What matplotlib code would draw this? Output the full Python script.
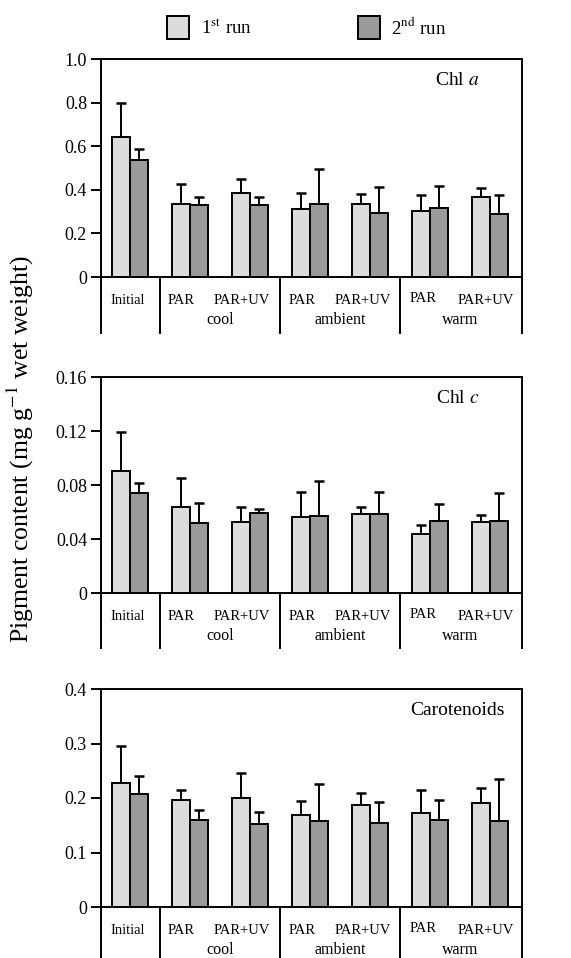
import matplotlib
matplotlib.use("Agg")
import matplotlib.pyplot as plt
import matplotlib.transforms as mtransforms
from matplotlib.patches import Rectangle
import numpy as np

plt.rcParams['font.family'] = ['Liberation Serif', 'DejaVu Serif']
plt.rcParams['mathtext.fontset'] = 'stix'

treatments = ['Initial', 'PAR', 'PAR+UV', 'PAR', 'PAR+UV', 'PAR', 'PAR+UV']
groups = ['cool', 'ambient', 'warm']

chla_run1 = [0.640, 0.336, 0.384, 0.313, 0.336, 0.303, 0.365]
chla_run1_top = [0.797, 0.425, 0.450, 0.384, 0.381, 0.374, 0.407]
chla_run2 = [0.538, 0.330, 0.330, 0.333, 0.292, 0.318, 0.288]
chla_run2_top = [0.585, 0.365, 0.365, 0.497, 0.413, 0.419, 0.378]

chlc_run1 = [0.0906, 0.064, 0.0528, 0.0563, 0.0588, 0.044, 0.0528]
chlc_run1_top = [0.119, 0.085, 0.064, 0.0748, 0.064, 0.0506, 0.0578]
chlc_run2 = [0.0741, 0.0519, 0.0593, 0.0573, 0.0585, 0.0531, 0.0536]
chlc_run2_top = [0.0812, 0.0667, 0.0625, 0.0827, 0.0748, 0.0657, 0.0743]

car_run1 = [0.228, 0.197, 0.200, 0.168, 0.187, 0.172, 0.190]
car_run1_top = [0.296, 0.214, 0.246, 0.195, 0.209, 0.215, 0.219]
car_run2 = [0.208, 0.160, 0.152, 0.158, 0.155, 0.160, 0.157]
car_run2_top = [0.241, 0.178, 0.175, 0.226, 0.193, 0.196, 0.235]

panels = [
    ('Chl $a$', chla_run1, chla_run1_top, chla_run2, chla_run2_top,
     [0, 0.2, 0.4, 0.6, 0.8, 1.0], ['0', '0.2', '0.4', '0.6', '0.8', '1.0']),
    ('Chl $c$', chlc_run1, chlc_run1_top, chlc_run2, chlc_run2_top,
     [0, 0.04, 0.08, 0.12, 0.16], ['0', '0.04', '0.08', '0.12', '0.16']),
    ('Carotenoids', car_run1, car_run1_top, car_run2, car_run2_top,
     [0, 0.1, 0.2, 0.3, 0.4], ['0', '0.1', '0.2', '0.3', '0.4']),
]

W, H = 571, 958
fig = plt.figure(figsize=(W / 100, H / 100), dpi=100)

# panel boxes in pixels: (top, bottom, table depth)
boxes = [(59, 277, 56), (377, 593, 55), (689, 907, 51)]
left_px, right_px = 101, 522

light = '#dcdcdc'
dark = '#9a9a9a'
x = np.arange(len(treatments))
bw = 0.3
label_shift = [-0.03, -0.15, -0.14, -0.13, -0.12, -0.12, -0.08]

for (name, r1, r1t, r2, r2t, ticks, ticklabels), (top, bot, depth) in zip(panels, boxes):
    ax = fig.add_axes([left_px / W, 1 - bot / H, (right_px - left_px) / W, (bot - top) / H])
    hpx = bot - top
    r1 = np.array(r1); r2 = np.array(r2)
    ax.bar(x - bw / 2, r1, bw, color=light, edgecolor='black', linewidth=1.4, zorder=3)
    ax.bar(x + bw / 2, r2, bw, color=dark, edgecolor='black', linewidth=1.4, zorder=3)
    ax.errorbar(x - bw / 2, r1, yerr=[np.zeros(7), np.array(r1t) - r1], fmt='none',
                ecolor='black', elinewidth=1.4, capsize=3.3, capthick=1.8, zorder=2)
    ax.errorbar(x + bw / 2, r2, yerr=[np.zeros(7), np.array(r2t) - r2], fmt='none',
                ecolor='black', elinewidth=1.4, capsize=3.3, capthick=1.8, zorder=2)
    ax.set_xlim(-0.48, 6.53)
    ax.set_ylim(ticks[0], ticks[-1])
    ax.set_yticks(ticks)
    ax.set_yticklabels(ticklabels, fontsize=13)
    ax.set_xticks([])
    ax.tick_params(axis='y', direction='out', length=7, width=1.4, pad=3)
    for s in ax.spines.values():
        s.set_linewidth(1.4)

    tr = mtransforms.blended_transform_factory(ax.transData, ax.transAxes)
    d = depth / hpx
    for xv in [-0.48, 0.5, 2.5, 4.5, 6.53]:
        ax.plot([xv, xv], [0, -d], color='black', lw=1.4, transform=tr, clip_on=False)
    for i, t in enumerate(treatments):
        dy = 21 if i == 5 else 23
        ax.text(x[i] + label_shift[i], -dy / hpx, t, transform=tr, ha='center',
                va='center', fontsize=10.5)
    for gi, g in enumerate(groups):
        ax.text(1.5 + 2 * gi, -43 / hpx, g, transform=tr, ha='center', va='center',
                fontsize=11.5)

    ax.text(0.846, 0.9, name, transform=ax.transAxes, ha='center', va='center', fontsize=14)

fig.text(20 / W, 1 - 449 / H, 'Pigment content (mg g$^{-1}$ wet weight)',
         rotation=90, ha='center', va='center', fontsize=18.5)

# legend
for xp, col, lab, tx in [(167, light, '1$^{\\mathrm{st}}$ run', 201),
                         (358, dark, '2$^{\\mathrm{nd}}$ run', 391)]:
    fig.add_artist(Rectangle((xp / W, 1 - 39 / H), 22 / W, 23 / H, facecolor=col,
                             edgecolor='black', linewidth=1.4, transform=fig.transFigure))
    fig.text(tx / W, 1 - 28 / H, lab, ha='left', va='center', fontsize=13.5)

fig.savefig('out.png', dpi=100)
